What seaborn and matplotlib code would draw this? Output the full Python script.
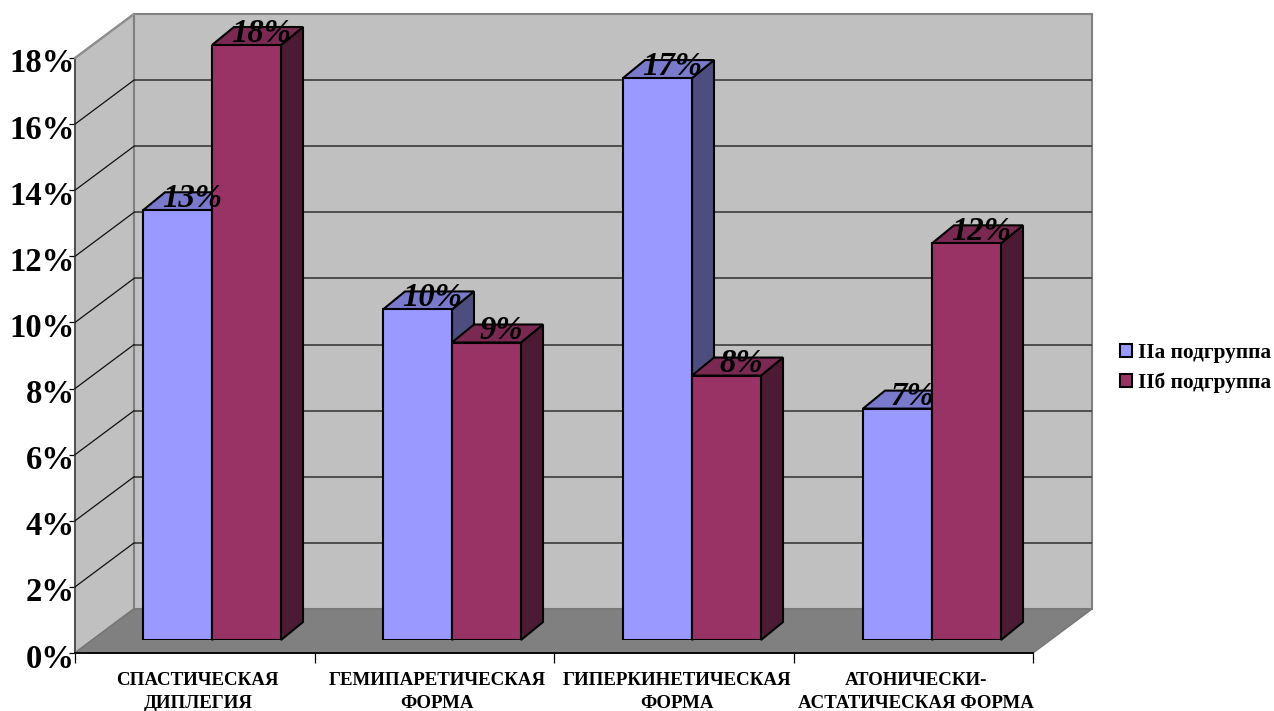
import matplotlib
matplotlib.use("Agg")
import matplotlib.pyplot as plt
from matplotlib.patches import Polygon
from matplotlib.transforms import Affine2D
import pandas as pd
import seaborn as sns

# Values in percent
forms = ["СПАСТИЧЕСКАЯ\nДИПЛЕГИЯ", "ГЕМИПАРЕТИЧЕСКАЯ\nФОРМА",
         "ГИПЕРКИНЕТИЧЕСКАЯ\nФОРМА", "АТОНИЧЕСКИ-\nАСТАТИЧЕСКАЯ ФОРМА"]
group_a = [13, 10, 17, 7]
group_b = [18, 9, 8, 12]
group_names = ["IIа подгруппа", "IIб подгруппа"]
y_ticks = [0, 2, 4, 6, 8, 10, 12, 14, 16, 18]

FRONT_COLORS = ["#9999FF", "#993366"]
SIDE_COLORS = ["#4D4D80", "#4D1A33"]
TOP_COLORS = ["#7A7ACC", "#7A2952"]
WALL = "#C0C0C0"
FLOOR = "#808080"
EDGE = "#808080"

W, H = 1274, 711
plt.rcParams["font.family"] = ["Liberation Serif", "DejaVu Serif"]

df = pd.DataFrame({
    "form": forms * 2,
    "value": group_a + group_b,
    "group": [group_names[0]] * 4 + [group_names[1]] * 4,
})

fig = plt.figure(figsize=(W / 100, H / 100), dpi=100)


def axes_from_pixels(left, right, top, bottom):
    return fig.add_axes([left / W, 1 - bottom / H, (right - left) / W, (bottom - top) / H])


# Front plane of the box carries the scales; the bars stand further back in it
ax_box = axes_from_pixels(75, 1033, 58, 653)
ax_bars = axes_from_pixels(92, 1052, 45, 640)
ax_box.set_zorder(1)
ax_bars.set_zorder(2)
ax_box.patch.set_visible(False)

ax_box.set_xlim(-0.5, 3.5)
ax_box.set_ylim(0, 18)

# Depth of the box, converted to data units of the front plane
back_dx = 59 * 4 / 958
back_dy = 44 * 18 / 595
x0, x1 = -0.5, 3.5
y_top = y_ticks[-1]

ax_box.add_patch(Polygon([(x0, 0), (x0, y_top), (x0 + back_dx, y_top + back_dy), (x0 + back_dx, back_dy)],
                         facecolor=WALL, edgecolor=EDGE, lw=1.5, clip_on=False, zorder=1))
ax_box.add_patch(Polygon([(x0 + back_dx, back_dy), (x0 + back_dx, y_top + back_dy),
                          (x1 + back_dx, y_top + back_dy), (x1 + back_dx, back_dy)],
                         facecolor=WALL, edgecolor=EDGE, lw=1.5, clip_on=False, zorder=1))
ax_box.add_patch(Polygon([(x0, 0), (x1, 0), (x1 + back_dx, back_dy), (x0 + back_dx, back_dy)],
                         facecolor=FLOOR, edgecolor="#767676", lw=1, clip_on=False, zorder=2))

# Grid lines run across the side wall and along the back wall
for t in y_ticks[1:]:
    yb = t + back_dy
    if t < y_top:
        ax_box.plot([x0 + back_dx, x1 + back_dx], [yb, yb], color="#303030", lw=1.1,
                    clip_on=False, zorder=3, solid_capstyle="butt")
    ax_box.plot([x0, x0 + back_dx], [t, yb], color="#909090" if t == y_top else "#101010",
                lw=1.5 if t == y_top else 0.9, clip_on=False, zorder=3)

for side in ("top", "right"):
    ax_box.spines[side].set_visible(False)
ax_box.spines["left"].set_color("#505050")
ax_box.spines["left"].set_linewidth(1.3)
ax_box.spines["bottom"].set_linewidth(1.3)
ax_box.spines["bottom"].set_zorder(4)

ax_box.set_yticks(y_ticks)
ax_box.set_yticklabels([f"{t}%" for t in y_ticks], fontsize=23.5, fontweight="bold", va="center")
ax_box.tick_params(axis="y", length=4.5, width=0.9, pad=-2)
# The tick labels sit slightly lower and closer to the axis than the ticks
nudge = Affine2D().translate(3, -6)
for label in ax_box.get_yticklabels():
    label.set_transform(label.get_transform() + nudge)

ax_box.set_xticks([-0.5, 0.5, 1.5, 2.5, 3.5])
ax_box.set_xticklabels([])
ax_box.set_xticks(range(4), labels=forms, minor=True, fontsize=13.6, fontweight="bold", linespacing=1.4)
ax_box.tick_params(axis="x", which="major", length=7.5, width=0.9)
ax_box.tick_params(axis="x", which="minor", length=0, pad=14)
shift = Affine2D().translate(3, 0)
for label in ax_box.get_xticklabels(minor=True):
    label.set_transform(label.get_transform() + shift)

sns.barplot(data=df, x="form", y="value", hue="group", hue_order=group_names,
            palette=FRONT_COLORS, saturation=1, width=0.575, gap=0,
            edgecolor="black", linewidth=1.5, ax=ax_bars)
ax_bars.set_xlim(-0.5, 3.5)
ax_bars.set_ylim(0, 18)

# Extrude every bar backwards: side and top faces lie under all the front faces
bar_dx = 22 * 4 / 960
bar_dy = 18 * 18 / 595
for i, container in enumerate(ax_bars.containers):
    for bar in container:
        bar.set_zorder(6)
        left, right = bar.get_x(), bar.get_x() + bar.get_width()
        h = bar.get_height()
        ax_bars.add_patch(Polygon([(right, 0), (right + bar_dx, bar_dy), (right + bar_dx, h + bar_dy), (right, h)],
                                  facecolor=SIDE_COLORS[i], edgecolor="black", lw=1.5,
                                  clip_on=False, zorder=3, joinstyle="miter"))
        ax_bars.add_patch(Polygon([(left, h), (left + bar_dx, h + bar_dy), (right + bar_dx, h + bar_dy), (right, h)],
                                  facecolor=TOP_COLORS[i], edgecolor="black", lw=1.5,
                                  clip_on=False, zorder=3 + i, joinstyle="miter"))
        ax_bars.annotate(f"{h:.0f}%", xy=((left + right) / 2, h), xytext=(15, 12),
                         textcoords="offset pixels", ha="center", va="center",
                         fontsize=23.6, fontstyle="italic", fontweight="bold", color="black", zorder=8,
                         annotation_clip=False)

sns.move_legend(ax_bars, loc="center left", bbox_to_anchor=(1120 / W, 1 - 368 / H),
                bbox_transform=fig.transFigure, frameon=False, title=None,
                prop={"size": 15.4, "weight": "bold"}, handlelength=0.55, handleheight=0.55,
                handletextpad=0.28, labelspacing=0.45, borderpad=0, borderaxespad=0)

ax_bars.set_axis_off()
fig.savefig("out.png", dpi=100, facecolor="white")
